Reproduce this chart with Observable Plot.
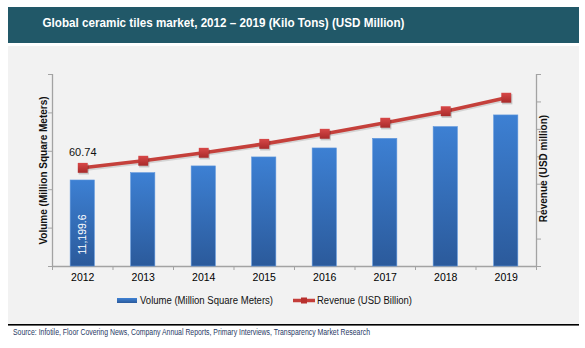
<!DOCTYPE html>
<html>
<head>
<meta charset="utf-8">
<script src="https://cdn.jsdelivr.net/npm/d3@7"></script>
<script src="https://cdn.jsdelivr.net/npm/@observablehq/plot@0.6"></script>
<style>
  html, body { margin: 0; padding: 0; background: #ffffff; }
  #wrap { position: relative; width: 585px; height: 348px; overflow: hidden; font-family: "Liberation Sans", Arial, sans-serif; }
  #bg, #chart { position: absolute; left: 0; top: 0; }
  #chart svg { overflow: visible; }
</style>
</head>
<body>
<div id="wrap">
  <svg id="bg" width="585" height="348" xmlns="http://www.w3.org/2000/svg" font-family="Liberation Sans, Arial, sans-serif">
    <defs>
      <linearGradient id="legBlue" x1="0" y1="0" x2="0" y2="1">
        <stop offset="0" stop-color="#3f82d4"/>
        <stop offset="1" stop-color="#2b5a9c"/>
      </linearGradient>
    </defs>
    <rect x="8" y="7" width="571" height="36" fill="#215868"/>
    <text id="title" x="42.5" y="27" fill="#ffffff" font-weight="bold" font-size="13" textLength="362" lengthAdjust="spacingAndGlyphs">Global ceramic tiles market, 2012 – 2019 (Kilo Tons) (USD Million)</text>
    <rect x="8" y="46" width="571" height="278" fill="#f2f2f2"/>
    <rect x="8" y="324" width="571" height="1.6" fill="#000000"/>
    <text id="source" x="13" y="335" fill="#1f3864" font-size="8.5" textLength="357" lengthAdjust="spacingAndGlyphs">Source: Infotile, Floor Covering News, Company Annual Reports, Primary Interviews, Transparency Market Research</text>
    <!-- legend -->
    <rect x="117" y="298" width="20" height="5" fill="url(#legBlue)"/>
    <text id="leg1" x="140" y="303.5" fill="#111" font-size="10" textLength="133" lengthAdjust="spacingAndGlyphs">Volume (Million Square Meters)</text>
    <line x1="293" y1="300.5" x2="315" y2="300.5" stroke="#c43e3a" stroke-width="3.5"/>
    <rect x="301" y="297.5" width="6" height="6" fill="#b8302e"/>
    <text id="leg2" x="317" y="303.5" fill="#111" font-size="10" textLength="95" lengthAdjust="spacingAndGlyphs">Revenue (USD Billion)</text>
  </svg>
  <div id="chart"></div>
</div>
<script>
// ---- data ----
const years = [2012, 2013, 2014, 2015, 2016, 2017, 2018, 2019];
const volume = [11199.6, 12150, 13030, 14200, 15370, 16620, 18150, 19670];
const revenue = [60.74, 65.1, 70.0, 75.5, 81.7, 88.5, 95.6, 103.9];
const volumeTicks = [0, 5000, 10000, 15000, 20000, 25000];
const volumeMax = 25000;
const revenueMax = 118.2;
const revenueTickCount = 7;
const volumeLabel = "Volume (Million Square Meters)";
const revenueLabel = "Revenue (USD million)";

const data = years.map((year, i) => ({year, volume: volume[i], revenue: revenue[i]}));
const toLeft = v => v / revenueMax * volumeMax;              // map revenue onto the left scale
const revenueTicks = d3.range(revenueTickCount + 1).map(i => toLeft(i * revenueMax / revenueTickCount));
const boundaries = years.map(y => y - 0.5).concat([years[years.length - 1] + 0.5]);
const axisColor = "#a3a3a3";

const defs = () => {
  const ns = "http://www.w3.org/2000/svg";
  const d = document.createElementNS(ns, "defs");
  d.innerHTML = `
    <linearGradient id="barGrad" x1="0" y1="0" x2="0" y2="1">
      <stop offset="0" stop-color="#3d80d3"/>
      <stop offset="1" stop-color="#2b5a9b"/>
    </linearGradient>
    <linearGradient id="mkGrad" x1="0" y1="0" x2="0" y2="1">
      <stop offset="0" stop-color="#d84848"/>
      <stop offset="1" stop-color="#a82a2a"/>
    </linearGradient>`;
  return d;
};

const chart = Plot.plot({
  width: 585,
  height: 348,
  marginLeft: 52,
  marginRight: 49,
  marginTop: 74,
  marginBottom: 82,
  style: {background: "transparent", fontFamily: "Liberation Sans, Arial, sans-serif", fontSize: "10.5px", color: "#000"},
  x: {type: "linear", domain: [boundaries[0], boundaries[boundaries.length - 1]], label: null},
  y: {domain: [0, volumeMax], label: null},
  marks: [
    defs,
    // axes lines & ticks
    Plot.ruleX([boundaries[0], boundaries[boundaries.length - 1]], {y1: 0, y2: volumeMax, stroke: axisColor, strokeWidth: 1.3}),
    Plot.ruleY([0], {stroke: axisColor, strokeWidth: 1.3}),
    Plot.axisY(volumeTicks, {anchor: "left", tickSize: 4, tickFormat: () => "", stroke: axisColor, strokeOpacity: 1, label: null}),
    Plot.axisY(revenueTicks, {anchor: "right", tickSize: 4, tickFormat: () => "", stroke: axisColor, strokeOpacity: 1, label: null}),
    Plot.axisX(boundaries, {tickSize: 4, tickFormat: () => "", stroke: axisColor, strokeOpacity: 1, label: null}),
    Plot.axisX(years, {tickSize: 0, tickPadding: 7, tickFormat: d => String(d), fontSize: 10.5, label: null}),
    // axis titles
    Plot.text([volumeLabel], {frameAnchor: "left", textAnchor: "middle", dx: -9, rotate: -90, fontWeight: "bold", fontSize: 10, fill: "#111"}),
    Plot.text([revenueLabel], {frameAnchor: "right", textAnchor: "middle", dx: 7, dy: -2, rotate: -90, fontWeight: "bold", fontSize: 10, fill: "#111"}),
    // bars
    Plot.rectY(data, {x1: d => d.year - 0.2, x2: d => d.year + 0.2, y1: 0, y2: "volume", fill: "url(#barGrad)", stroke: "#5d95dc", strokeWidth: 0.6}),
    // line
    Plot.line(data, {x: "year", y: d => toLeft(d.revenue), stroke: "#000", strokeOpacity: 0.12, strokeWidth: 4, dy: 1.5}),
    Plot.line(data, {x: "year", y: d => toLeft(d.revenue), stroke: "#c5403b", strokeWidth: 3.6}),
    Plot.dot(data, {x: "year", y: d => toLeft(d.revenue), symbol: "square", r: 5.8, fill: "#000", fillOpacity: 0.18, dx: 1, dy: 1.5}),
    Plot.dot(data, {x: "year", y: d => toLeft(d.revenue), symbol: "square", r: 5.6, fill: "url(#mkGrad)"}),
    // value labels
    Plot.text(data.slice(0, 1), {x: "year", y: d => toLeft(d.revenue), text: d => d.revenue.toFixed(2), dy: -15, fontSize: 11, fill: "#111"}),
    Plot.text(data.slice(0, 1), {x: "year", y: 0, text: d => d3.format(",.1f")(d.volume), rotate: -90, textAnchor: "start", dy: -12, fontSize: 10.5, fill: "#ffffff"})
  ]
});
document.getElementById("chart").appendChild(chart);
</script>
</body>
</html>
